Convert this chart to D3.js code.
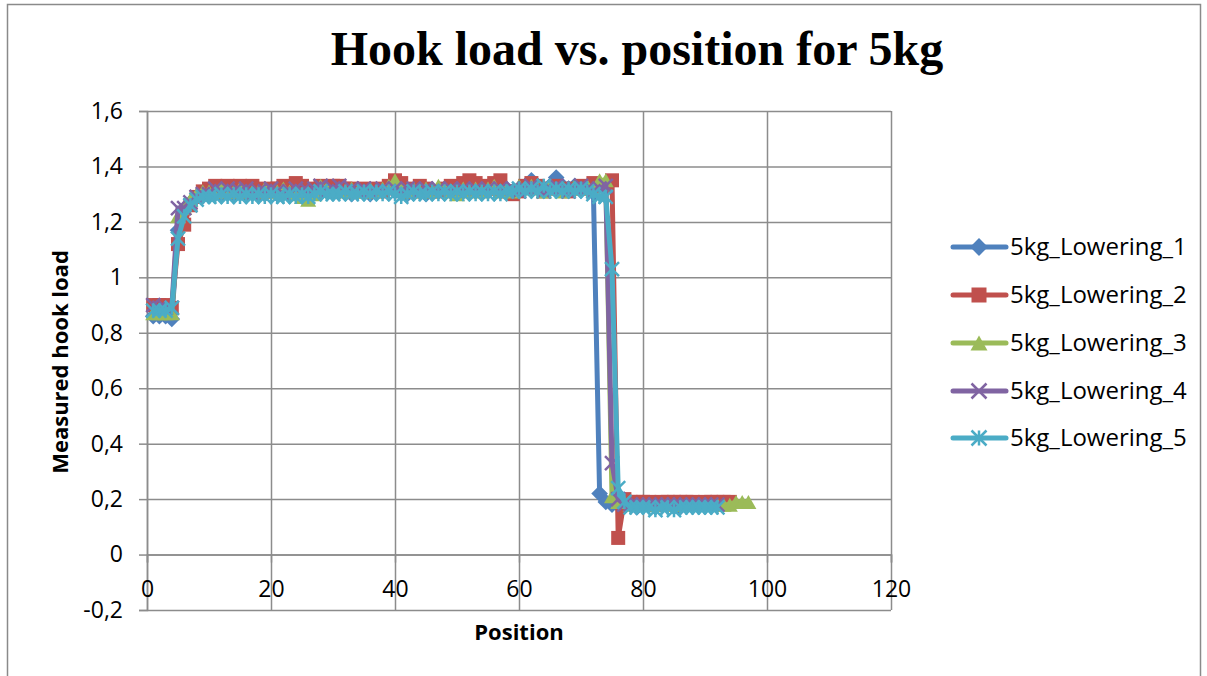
<!DOCTYPE html>
<html>
<head>
<meta charset="utf-8">
<script src="https://cdn.jsdelivr.net/npm/d3@7"></script>
<style>
  body { margin: 0; background: #fff; }
  svg text { font-family: "Open Sans", "Noto Sans", sans-serif; }
</style>
</head>
<body>
<svg id="chart" width="1207" height="676"></svg>
<script>
// positions along the lowering (x axis)
var positions = [1,2,3,4,5,6,7,8,9,10,11,12,13,14,15,16,17,18,19,20,
  21,22,23,24,25,26,27,28,29,30,31,32,33,34,35,36,37,38,39,40,
  41,42,43,44,45,46,47,48,49,50,51,52,53,54,55,56,57,58,59,60,
  61,62,63,64,65,66,67,68,69,70,71,72,73,74,75,76,77,78,79,80,
  81,82,83,84,85,86,87,88,89,90,91,92,93,94,95,96,97];

var seriesNames = ["5kg_Lowering_1", "5kg_Lowering_2", "5kg_Lowering_3", "5kg_Lowering_4", "5kg_Lowering_5"];

var lowering1 = [0.86,0.86,0.86,0.85,1.17,1.24,1.27,1.29,1.30,1.30,
  1.31,1.30,1.31,1.30,1.31,1.30,1.31,1.30,1.30,1.31,
  1.30,1.31,1.30,1.31,1.31,1.30,1.31,1.32,1.31,1.31,
  1.31,1.31,1.30,1.31,1.31,1.30,1.31,1.31,1.32,1.31,
  1.31,1.30,1.31,1.31,1.30,1.31,1.31,1.32,1.31,1.31,
  1.31,1.31,1.32,1.31,1.31,1.32,1.31,1.32,1.31,1.32,
  1.33,1.35,1.33,1.32,1.33,1.36,1.33,1.32,1.33,1.32,
  1.32,1.31,0.22,0.19,0.18,0.18,0.18,0.18,0.17,0.18,
  0.18,0.17,0.18,0.18,0.18,0.17,0.18,0.18,0.18,0.18,0.18,0.18];

var lowering2 = [0.90,0.90,0.90,0.89,1.12,1.19,1.26,1.29,1.31,1.32,
  1.33,1.32,1.33,1.32,1.33,1.32,1.33,1.32,1.31,1.32,
  1.32,1.33,1.32,1.34,1.33,1.32,1.31,1.33,1.32,1.33,
  1.33,1.32,1.32,1.31,1.32,1.31,1.32,1.31,1.33,1.35,
  1.34,1.32,1.31,1.33,1.32,1.31,1.31,1.32,1.33,1.32,
  1.34,1.35,1.34,1.33,1.32,1.34,1.35,1.31,1.30,1.31,
  1.33,1.34,1.33,1.31,1.32,1.33,1.32,1.31,1.32,1.33,
  1.32,1.34,1.33,1.33,1.35,0.06,0.20,0.19,0.19,0.19,
  0.19,0.18,0.19,0.19,0.19,0.19,0.19,0.19,0.18,0.19,0.19,0.19,0.19,0.19];

var lowering3 = [0.87,0.87,0.87,0.87,1.22,1.25,1.28,1.30,1.31,1.31,
  1.31,1.32,1.31,1.31,1.32,1.31,1.31,1.31,1.32,1.31,
  1.31,1.32,1.31,1.30,1.29,1.28,1.30,1.33,1.32,1.31,
  1.32,1.31,1.32,1.31,1.31,1.32,1.31,1.32,1.33,1.35,
  1.32,1.31,1.32,1.31,1.32,1.31,1.33,1.32,1.31,1.30,
  1.32,1.31,1.32,1.31,1.32,1.33,1.31,1.32,1.31,1.33,
  1.32,1.33,1.32,1.31,1.33,1.32,1.31,1.32,1.33,1.32,
  1.33,1.32,1.35,1.35,0.21,0.19,0.19,0.18,0.18,0.18,
  0.18,0.18,0.18,0.18,0.18,0.18,0.18,0.18,0.18,0.18,
  0.18,0.18,0.18,0.18,0.19,0.19,0.19];

var lowering4 = [0.90,0.89,0.89,0.89,1.25,1.25,1.27,1.29,1.30,1.30,
  1.32,1.31,1.32,1.31,1.31,1.32,1.30,1.31,1.31,1.32,
  1.31,1.30,1.31,1.32,1.31,1.31,1.32,1.33,1.31,1.32,
  1.33,1.31,1.32,1.31,1.32,1.31,1.31,1.32,1.31,1.32,
  1.31,1.32,1.32,1.31,1.32,1.31,1.32,1.31,1.32,1.31,
  1.32,1.31,1.32,1.31,1.32,1.31,1.32,1.31,1.32,1.31,
  1.32,1.33,1.32,1.31,1.32,1.33,1.32,1.31,1.32,1.33,
  1.32,1.31,1.32,1.33,0.33,0.20,0.18,0.18,0.18,0.18,
  0.18,0.18,0.18,0.18,0.18,0.18,0.18,0.18,0.18,0.18,0.18,0.18];

var lowering5 = [0.88,0.88,0.88,0.89,1.14,1.22,1.26,1.28,1.29,1.29,
  1.29,1.30,1.29,1.30,1.29,1.30,1.29,1.30,1.29,1.30,
  1.29,1.29,1.30,1.29,1.30,1.29,1.30,1.31,1.30,1.30,
  1.30,1.31,1.30,1.30,1.31,1.30,1.31,1.30,1.31,1.30,
  1.29,1.30,1.31,1.30,1.30,1.31,1.30,1.31,1.30,1.31,
  1.30,1.31,1.30,1.31,1.30,1.31,1.30,1.31,1.31,1.32,
  1.31,1.32,1.31,1.33,1.31,1.32,1.31,1.32,1.31,1.32,
  1.31,1.30,1.29,1.29,1.03,0.24,0.19,0.17,0.17,0.17,
  0.17,0.16,0.17,0.17,0.16,0.17,0.17,0.17,0.17,0.17,0.17,0.17];

var allValues = [lowering1, lowering2, lowering3, lowering4, lowering5];
var colors = ["#4f81bd", "#c0504d", "#9bbb59", "#8064a2", "#4bacc6"];
var markers = ["diamond", "square", "triangle", "x", "star"];

var xTicks = [0, 20, 40, 60, 80, 100, 120];
var yTicks = [-0.2, 0, 0.2, 0.4, 0.6, 0.8, 1, 1.2, 1.4, 1.6];

var svg = d3.select("#chart");

var x = d3.scaleLinear().domain([0, 120]).range([147, 891]);
var y = d3.scaleLinear().domain([-0.2, 1.6]).range([610, 111]);

// excel style: comma decimal, plain hyphen for negatives
var fmt = function(v) { return String(Math.round(v * 10) / 10).replace(".", ","); };

// outer chart border
svg.append("rect").attr("x", 7.5).attr("y", 4.5).attr("width", 1193).attr("height", 700)
  .attr("fill", "none").attr("stroke", "#8a8a8a").attr("stroke-width", 1.5);

// title
svg.append("text").attr("x", 637).attr("y", 65).attr("text-anchor", "middle")
  .style("font-family", "'Liberation Serif', 'DejaVu Serif', serif")
  .style("font-weight", "bold").style("font-size", "48px").text("Hook load vs. position for 5kg");

// grid
var yGrid = d3.axisLeft(y).tickValues(yTicks).tickSize(-(x(120) - x(0))).tickFormat("");
var yg = svg.append("g").attr("transform", "translate(" + x(0) + ",0)").call(yGrid);
yg.select(".domain").remove();
yg.selectAll("line").attr("stroke", "#8c8c8c").attr("stroke-width", 1.5);

var xGrid = d3.axisBottom(x).tickValues(xTicks).tickSize(-(y(-0.2) - y(1.6))).tickFormat("");
var xg = svg.append("g").attr("transform", "translate(0," + y(-0.2) + ")").call(xGrid);
xg.select(".domain").remove();
xg.selectAll("line").attr("stroke", "#8c8c8c").attr("stroke-width", 1.5);

// y axis with ticks and labels
var yAxis = d3.axisLeft(y).tickValues(yTicks).tickSize(8).tickPadding(16).tickFormat(fmt);
var ya = svg.append("g").attr("transform", "translate(" + x(0) + ",0)").call(yAxis);
ya.select(".domain").attr("stroke", "#8c8c8c").attr("stroke-width", 1.5);
ya.selectAll("line").attr("stroke", "#8c8c8c").attr("stroke-width", 1.5);
ya.selectAll("text").style("font-size", "23px").attr("fill", "#000");

// x axis at zero
var xAxis = d3.axisBottom(x).tickValues(xTicks).tickSize(8).tickPadding(18).tickFormat(d3.format("d"));
var xa = svg.append("g").attr("transform", "translate(0," + y(0) + ")").call(xAxis);
xa.select(".domain").attr("stroke", "#8c8c8c").attr("stroke-width", 1.5);
xa.selectAll("line").attr("stroke", "#8c8c8c").attr("stroke-width", 1.5);
xa.selectAll("text").style("font-size", "23px").attr("fill", "#000");

// axis titles
svg.append("text").attr("x", 519).attr("y", 640).attr("text-anchor", "middle")
  .style("font-weight", "bold").style("font-size", "22px").text("Position");
svg.append("text").attr("transform", "translate(68,362) rotate(-90)").attr("text-anchor", "middle")
  .style("font-weight", "bold").style("font-size", "22px").text("Measured hook load");

function drawMarker(g, type, color, size) {
  var s = size / 2;
  if (type === "diamond") {
    g.append("path").attr("d", d3.symbol().type(d3.symbolDiamond2).size(size * size * 0.9)()).attr("fill", color);
  } else if (type === "square") {
    g.append("rect").attr("x", -s).attr("y", -s).attr("width", size).attr("height", size).attr("fill", color);
  } else if (type === "triangle") {
    g.append("path").attr("d", "M0," + (-s) + "L" + (s + 1) + "," + s + "L" + (-s - 1) + "," + s + "Z").attr("fill", color);
  } else if (type === "x") {
    g.append("path").attr("d", "M" + (-s) + "," + (-s) + "L" + s + "," + s + "M" + (-s) + "," + s + "L" + s + "," + (-s))
      .attr("stroke", color).attr("stroke-width", 2.5);
  } else {
    g.append("path").attr("d", "M" + (-s) + "," + (-s) + "L" + s + "," + s + "M" + (-s) + "," + s + "L" + s + "," + (-s) +
      "M0," + (-s) + "L0," + s).attr("stroke", color).attr("stroke-width", 2.5);
  }
}

var line = d3.line().x(function(d) { return x(d[0]); }).y(function(d) { return y(d[1]); });

allValues.forEach(function(vals, i) {
  var pts = vals.map(function(v, k) { return [positions[k], v]; });
  var g = svg.append("g");
  g.append("path").datum(pts).attr("d", line).attr("fill", "none")
    .attr("stroke", colors[i]).attr("stroke-width", 5).attr("stroke-linejoin", "round");
  pts.forEach(function(p) {
    var m = g.append("g").attr("transform", "translate(" + x(p[0]) + "," + y(p[1]) + ")");
    drawMarker(m, markers[i], colors[i], 14);
  });
});

// legend
var legendY = [247, 295, 343, 391, 438];
seriesNames.forEach(function(name, i) {
  var g = svg.append("g").attr("transform", "translate(0," + legendY[i] + ")");
  g.append("line").attr("x1", 953).attr("x2", 1006).attr("y1", 0).attr("y2", 0)
    .attr("stroke", colors[i]).attr("stroke-width", 5).attr("stroke-linecap", "round");
  var m = g.append("g").attr("transform", "translate(979,0)");
  drawMarker(m, markers[i], colors[i], 15);
  g.append("text").attr("x", 1010).attr("y", 8).style("font-size", "24px").text(name);
});
</script>
</body>
</html>
